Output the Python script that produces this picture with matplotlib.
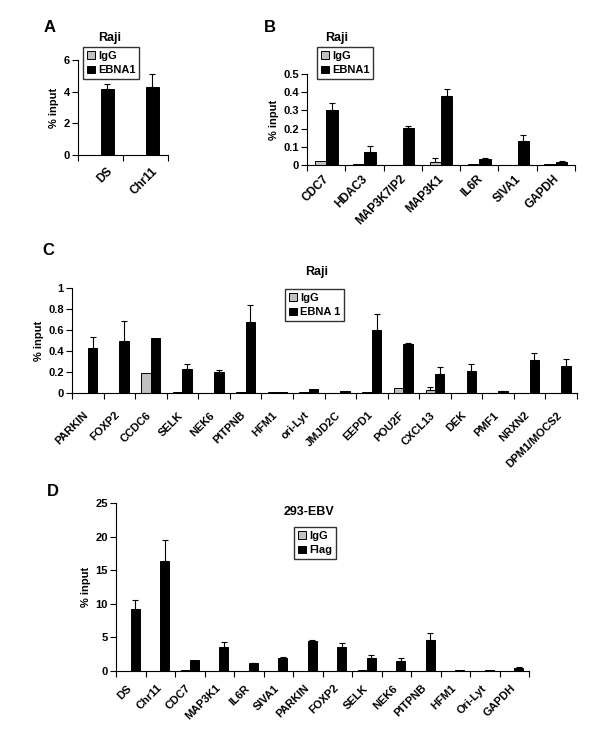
import matplotlib
matplotlib.use("Agg")
import matplotlib.pyplot as plt
import matplotlib.transforms as mtransforms
import numpy as np

plt.rcParams['font.family'] = ['Liberation Sans', 'DejaVu Sans']
plt.rcParams['font.weight'] = 'bold'

# ---- data ----
A_cats = ['DS', 'Chr11']
A_igg = [0.0, 0.0]
A_igg_err = [0.0, 0.0]
A_ebna = [4.15, 4.27]
A_ebna_err = [0.31, 0.85]

B_cats = ['CDC7', 'HDAC3', 'MAP3K7IP2', 'MAP3K1', 'IL6R', 'SIVA1', 'GAPDH']
B_igg = [0.022, 0.006, 0.002, 0.018, 0.004, 0.0, 0.004]
B_igg_err = [0.0, 0.0, 0.0, 0.022, 0.0, 0.0, 0.0]
B_ebna = [0.30, 0.072, 0.204, 0.379, 0.033, 0.13, 0.018]
B_ebna_err = [0.042, 0.033, 0.013, 0.036, 0.004, 0.034, 0.003]

C_cats = ['PARKIN', 'FOXP2', 'CCDC6', 'SELK', 'NEK6', 'PITPNB', 'HFM1', 'ori-Lyt',
          'JMJD2C', 'EEPD1', 'POU2F', 'CXCL13', 'DEK', 'PMF1', 'NRXN2', 'DPM1/MOCS2']
C_igg = [0.0, 0.0, 0.186, 0.01, 0.0, 0.012, 0.01, 0.008, 0.0, 0.01, 0.045, 0.03,
         0.0, 0.0, 0.0, 0.0]
C_igg_err = [0, 0, 0, 0, 0, 0, 0, 0, 0, 0, 0, 0.025, 0, 0, 0, 0]
C_ebna = [0.43, 0.50, 0.527, 0.228, 0.196, 0.675, 0.01, 0.04, 0.015, 0.598, 0.47,
          0.177, 0.206, 0.015, 0.318, 0.26]
C_ebna_err = [0.10, 0.185, 0.0, 0.049, 0.026, 0.165, 0.0, 0.0, 0.0, 0.154, 0.005,
              0.067, 0.071, 0.005, 0.062, 0.06]

D_cats = ['DS', 'Chr11', 'CDC7', 'MAP3K1', 'IL6R', 'SIVA1', 'PARKIN', 'FOXP2',
          'SELK', 'NEK6', 'PITPNB', 'HFM1', 'Ori-Lyt', 'GAPDH']
D_igg = [0.0, 0.0, 0.1, 0.0, 0.0, 0.0, 0.0, 0.0, 0.1, 0.0, 0.0, 0.0, 0.0, 0.0]
D_igg_err = [0.0] * 14
D_flag = [9.2, 16.4, 1.6, 3.5, 1.14, 2.0, 4.5, 3.5, 2.0, 1.55, 4.6, 0.08, 0.08, 0.5]
D_flag_err = [1.3, 3.1, 0.0, 0.77, 0.06, 0.05, 0.1, 0.6, 0.4, 0.4, 1.0, 0.0, 0.0, 0.05]

W, H = 600, 733
DPI = 100
fig = plt.figure(figsize=(W / DPI, H / DPI), dpi=DPI)


def px_axes(l, r, t, b):
    return fig.add_axes([l / W, 1 - b / H, (r - l) / W, (b - t) / H])


FS = 8


def panel(ax, cats, igg, igg_err, sig, sig_err, ylim, yticks, yticklabels,
          title, title_xy, leg_labels, leg_xy, label, label_xy, lab_off, xfs=FS):
    n = len(cats)
    x = np.arange(n)
    w = 0.3
    ax.bar(x - w / 2, igg, w, color='#c0c0c0', edgecolor='black', linewidth=0.7,
           label=leg_labels[0], zorder=2)
    ax.bar(x + w / 2, sig, w, color='black', edgecolor='black', linewidth=0.7,
           label=leg_labels[1], zorder=2)
    ie = np.array(igg_err)
    se = np.array(sig_err)
    m = ie > 0
    if m.any():
        ax.errorbar((x - w / 2)[m], np.array(igg)[m], yerr=[np.zeros(m.sum()), ie[m]],
                    fmt='none', ecolor='black', elinewidth=0.8, capsize=2.5, capthick=0.8,
                    zorder=3)
    m = se > 0
    ax.errorbar((x + w / 2)[m], np.array(sig)[m], yerr=[np.zeros(m.sum()), se[m]],
                fmt='none', ecolor='black', elinewidth=0.8, capsize=2.5, capthick=0.8,
                zorder=3)
    ax.set_xlim(-0.5, n - 0.5)
    ax.set_ylim(*ylim)
    ax.set_yticks(yticks)
    ax.set_yticklabels(yticklabels, fontsize=FS, fontweight='bold')
    ax.set_xticks(x)
    ax.set_xticklabels(cats, rotation=45, ha='right', va='top', rotation_mode='anchor',
                       fontsize=xfs, fontweight='bold')
    ax.set_xticks(np.arange(n + 1) - 0.5, minor=True)
    ax.tick_params(axis='x', which='major', length=0, pad=0)
    ax.tick_params(axis='x', which='minor', length=4, direction='out', width=0.8)
    ax.tick_params(axis='y', length=4, direction='out', width=0.8, pad=2)
    off = mtransforms.ScaledTranslation(lab_off[0] / DPI, -lab_off[1] / DPI,
                                        fig.dpi_scale_trans)
    for t in ax.get_xticklabels():
        t.set_transform(t.get_transform() + off)
    for s in ['top', 'right']:
        ax.spines[s].set_visible(False)
    for s in ['left', 'bottom']:
        ax.spines[s].set_linewidth(0.8)
    ax.set_ylabel('% input', fontsize=FS, fontweight='bold', labelpad=3)
    fig.text(title_xy[0] / W, 1 - title_xy[1] / H, title, ha='center', va='center',
             fontsize=9, fontweight='bold')
    fig.text(label_xy[0] / W, 1 - label_xy[1] / H, label, ha='center', va='center',
             fontsize=12, fontweight='bold')
    leg = ax.legend(loc='upper left', bbox_to_anchor=(leg_xy[0] / W, 1 - leg_xy[1] / H),
                    bbox_transform=fig.transFigure, frameon=True, fancybox=False,
                    edgecolor='black', fontsize=FS, handlelength=0.7, handleheight=0.7,
                    handletextpad=0.3, labelspacing=0.4, borderpad=0.35,
                    borderaxespad=0)
    leg.get_frame().set_linewidth(1.0)
    for t in leg.get_texts():
        t.set_fontweight('bold')


axA = px_axes(78, 168, 60, 155)
panel(axA, A_cats, A_igg, A_igg_err, A_ebna, A_ebna_err, (0, 6), [0, 2, 4, 6],
      ['0', '2', '4', '6'], 'Raji', (110, 38), ['IgG', 'EBNA1'], (83, 47), 'A', (50, 28),
      (6, 10), xfs=8.5)

axB = px_axes(307, 575, 74, 165)
panel(axB, B_cats, B_igg, B_igg_err, B_ebna, B_ebna_err, (0, 0.5),
      [0, 0.1, 0.2, 0.3, 0.4, 0.5], ['0', '0.1', '0.2', '0.3', '0.4', '0.5'],
      'Raji', (337, 38), ['IgG', 'EBNA1'], (317, 47), 'B', (270, 28), (-3, 8), xfs=8.5)

axC = px_axes(72, 577, 288, 393)
panel(axC, C_cats, C_igg, C_igg_err, C_ebna, C_ebna_err, (0, 1),
      [0, 0.2, 0.4, 0.6, 0.8, 1.0], ['0', '0.2', '0.4', '0.6', '0.8', '1'],
      'Raji', (317, 272), ['IgG', 'EBNA 1'], (285, 289), 'C', (48, 250), (-5, 17))

axD = px_axes(116, 529, 503, 671)
panel(axD, D_cats, D_igg, D_igg_err, D_flag, D_flag_err, (0, 25),
      [0, 5, 10, 15, 20, 25], ['0', '5', '10', '15', '20', '25'],
      '293-EBV', (309, 512), ['IgG', 'Flag'], (294, 527), 'D', (53, 492), (-4, 12))

fig.savefig('out.png', dpi=DPI, facecolor='white')
